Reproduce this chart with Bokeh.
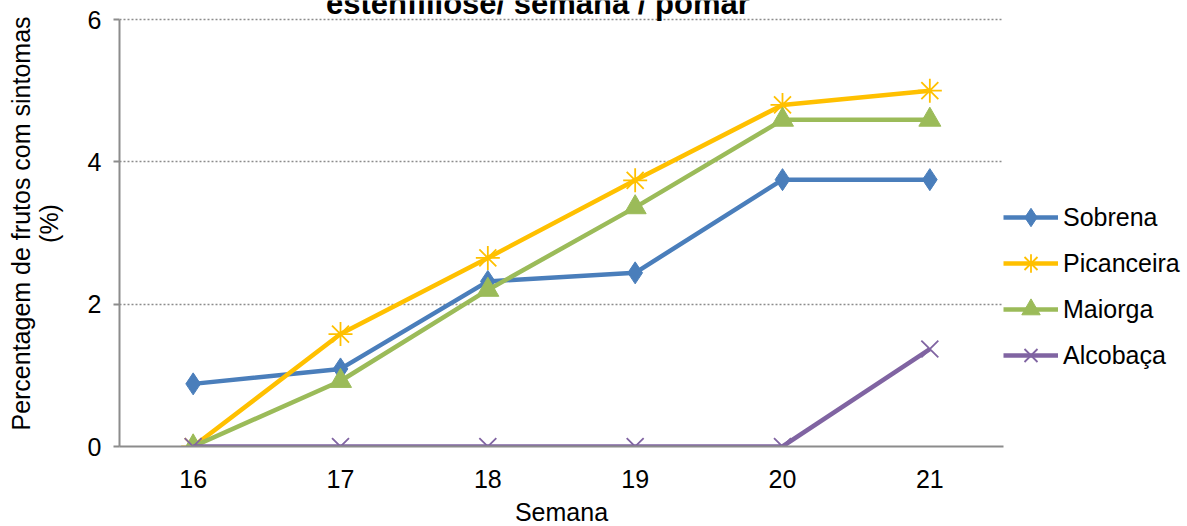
from bokeh.plotting import figure
from bokeh.models import Range1d, Label, Legend, LegendItem, FixedTicker, ColumnDataSource
from bokeh.embed import file_html
from bokeh.resources import INLINE

semanas = [16, 17, 18, 19, 20, 21]
sobrena = [0.88, 1.09, 2.32, 2.44, 3.75, 3.75]
picanceira = [0.0, 1.58, 2.65, 3.74, 4.80, 5.00]
maiorga = [0.0, 0.92, 2.20, 3.36, 4.59, 4.59]
alcobaca = [0.0, 0.0, 0.0, 0.0, 0.0, 1.37]
y_ticks = [0, 2, 4, 6]

W, H = 1187, 526
FL, FT = 119, 0
FW, FH = 884, 446
PX_PER_UNIT = 427 / 6.0
Y_TOP = FH / PX_PER_UNIT
p = figure(frame_width=FW, frame_height=FH,
           output_backend="svg", toolbar_location=None,
           x_range=Range1d(15.5, 21.5), y_range=Range1d(0, Y_TOP),
           min_border_left=FL, min_border_right=W - FL - FW,
           min_border_top=FT, min_border_bottom=H - FT - FH)
p.outline_line_color = None
p.background_fill_color = "white"

FONT = "Liberation Sans"
FS = "25px"
p.xaxis.ticker = FixedTicker(ticks=semanas)
p.yaxis.ticker = FixedTicker(ticks=y_ticks)
p.yaxis.bounds = (0, 6)
p.xgrid.grid_line_color = None
p.ygrid.grid_line_color = "#8c8c8c"
p.ygrid.grid_line_dash = "2 2"
p.ygrid.grid_line_width = 1.5
for ax in (p.xaxis, p.yaxis):
    ax.axis_line_color = "#8c8c8c"
    ax.axis_line_width = 2
    ax.major_label_text_font = FONT
    ax.major_label_text_font_size = FS
    ax.major_label_text_color = "black"
    ax.minor_tick_line_color = None
    ax.axis_label_text_font = FONT
    ax.axis_label_text_font_size = FS
    ax.axis_label_text_font_style = "normal"
    ax.axis_label_text_color = "black"
p.xaxis.major_tick_line_color = None
p.xaxis.major_label_standoff = 17
p.xaxis.axis_label = "Semana"
p.xaxis.axis_label_standoff = 7
p.yaxis.major_tick_line_color = "#8c8c8c"
p.yaxis.major_tick_line_width = 2
p.yaxis.major_tick_in = 0
p.yaxis.major_tick_out = 6
p.yaxis.major_label_standoff = 12
p.yaxis.axis_label = "Percentagem de frutos com sintomas\n(%)"
p.yaxis.axis_label_standoff = 22
p.yaxis.axis_label_text_line_height = 1.0

series = [
    ("Sobrena", sobrena, "#4a7ebb", "diamond"),
    ("Picanceira", picanceira, "#ffc000", "asterisk"),
    ("Maiorga", maiorga, "#9bbb59", "triangle"),
    ("Alcobaça", alcobaca, "#8064a2", "x"),
]
items = []
for name, vals, col, mk in series:
    src = ColumnDataSource(dict(x=semanas, y=vals))
    r1 = p.line("x", "y", source=src, line_color=col, line_width=4.5)
    if mk == "diamond":
        r2 = p.scatter("x", "y", source=src, marker="diamond", size=22, fill_color=col, line_color=col)
    elif mk == "triangle":
        r2 = p.scatter("x", "y", source=src, marker="triangle", size=22, fill_color=col, line_color=col)
    else:
        r2 = p.scatter("x", "y", source=src, marker=mk, size=24, fill_color=None, line_color=col, line_width=1.8)
    items.append(LegendItem(label=name, renderers=[r1, r2]))

legend = Legend(items=items, location=(0, 68), label_text_font=FONT, label_text_font_size=FS,
                label_text_color="black", glyph_width=55, glyph_height=46, spacing=0,
                label_standoff=5, border_line_color=None, background_fill_alpha=0,
                padding=0, margin=0)
p.add_layout(legend, "right")

title = Label(x=18.34, y=Y_TOP - 3 / PX_PER_UNIT, text="estenfiliose/ semana / pomar",
              text_font=FONT, text_font_style="bold", text_font_size="31px",
              text_align="center", text_baseline="alphabetic", text_color="black")
p.add_layout(title)

open("out.html", "w").write(file_html(p, INLINE))
